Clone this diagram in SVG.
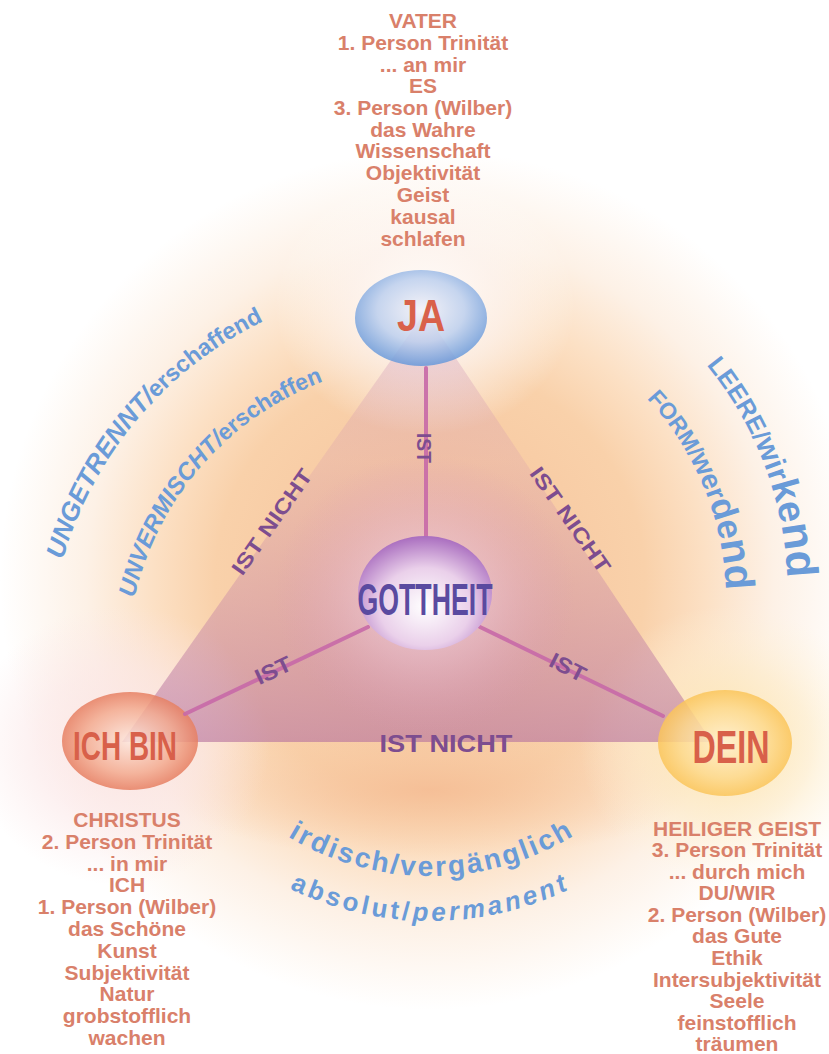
<svg xmlns="http://www.w3.org/2000/svg" width="829" height="1054" viewBox="0 0 829 1054">
<style>
.info{font-family:"Liberation Sans",Arial,sans-serif;font-weight:bold;font-size:21px;fill:#d9806a;text-anchor:middle}
.arc{font-family:"Liberation Sans",Arial,sans-serif;font-weight:bold;fill:#6a9bd8}
.lbl{font-family:"Liberation Sans",Arial,sans-serif;font-weight:bold;fill:#7d4d8f;text-anchor:middle}
.node{font-family:"Liberation Sans",Arial,sans-serif;font-weight:bold;text-anchor:middle}
.conn{stroke:#c86aa8;stroke-width:4;stroke-linecap:round;opacity:0.9}
</style>
<defs>
<radialGradient id="bg" gradientUnits="userSpaceOnUse" cx="430" cy="580" r="430">
<stop offset="0" stop-color="#f5c19a"/>
<stop offset="0.5" stop-color="#f9d1aa"/>
<stop offset="0.64" stop-color="#fce0c4"/>
<stop offset="0.8" stop-color="#fdf1e6"/>
<stop offset="1" stop-color="#ffffff"/>
</radialGradient>
<radialGradient id="glowW"><stop offset="0" stop-color="#ffffff" stop-opacity="0.95"/><stop offset="0.5" stop-color="#fdf6f4" stop-opacity="0.7"/><stop offset="1" stop-color="#ffffff" stop-opacity="0"/></radialGradient>
<radialGradient id="glowP"><stop offset="0" stop-color="#fbe4e2" stop-opacity="0.95"/><stop offset="0.55" stop-color="#fbe6e6" stop-opacity="0.6"/><stop offset="1" stop-color="#fbe6e6" stop-opacity="0"/></radialGradient>
<radialGradient id="glowY"><stop offset="0" stop-color="#fde3a6" stop-opacity="0.95"/><stop offset="0.55" stop-color="#fdeac4" stop-opacity="0.6"/><stop offset="1" stop-color="#fff3dc" stop-opacity="0"/></radialGradient>
<radialGradient id="glowO"><stop offset="0" stop-color="#f5bd95" stop-opacity="0.9"/><stop offset="1" stop-color="#f7c8a0" stop-opacity="0"/></radialGradient>
<radialGradient id="glowG"><stop offset="0" stop-color="#f6e4ee" stop-opacity="0.8"/><stop offset="0.5" stop-color="#e9bfd3" stop-opacity="0.45"/><stop offset="1" stop-color="#d99ab8" stop-opacity="0"/></radialGradient>
<linearGradient id="tri" gradientUnits="userSpaceOnUse" x1="0" y1="312" x2="0" y2="742">
<stop offset="0" stop-color="#c890b8" stop-opacity="0.35"/>
<stop offset="0.35" stop-color="#d69aae" stop-opacity="0.25"/>
<stop offset="1" stop-color="#b8759f" stop-opacity="0.64"/>
</linearGradient>
<radialGradient id="gJA" cx="0.5" cy="0.42" r="0.6"><stop offset="0" stop-color="#f3f1f7"/><stop offset="0.55" stop-color="#bccfee"/><stop offset="1" stop-color="#5f93d8"/></radialGradient>
<radialGradient id="gICH" cx="0.5" cy="0.5" r="0.6"><stop offset="0" stop-color="#fde8de"/><stop offset="0.55" stop-color="#f3ab90"/><stop offset="1" stop-color="#df6546"/></radialGradient>
<radialGradient id="gDEIN" cx="0.5" cy="0.5" r="0.6"><stop offset="0" stop-color="#fff2d6"/><stop offset="0.55" stop-color="#fdd98c"/><stop offset="1" stop-color="#f9b93c"/></radialGradient>
<radialGradient id="gGOTT" cx="0.5" cy="0.62" r="0.62"><stop offset="0" stop-color="#ffffff"/><stop offset="0.55" stop-color="#ead0ea"/><stop offset="1" stop-color="#a96dbf"/></radialGradient>
<path id="pUng" d="M 62.8,559.7 A 382 382 0 0 1 262.5,321.7"/>
<path id="pUnv" d="M 134.5,597.9 A 303 303 0 0 1 323.9,381.2"/>
<path id="pLee" d="M 706.5,365 A 358 358 0 0 1 787.1,575"/>
<path id="pFor" d="M 646.8,398.5 A 296 296 0 0 1 725.8,589.7"/>
<path id="pIrd" d="M 287.9,836.6 A 276 276 0 0 0 576.3,834.0"/>
<path id="pAbs" d="M 289.7,888.6 A 321 321 0 0 0 575.7,886.0"/>
</defs>

<g id="background">
<rect width="829" height="1054" fill="#ffffff"/>
<ellipse cx="430" cy="580" rx="430" ry="430" fill="url(#bg)"/>
<ellipse cx="430" cy="790" rx="260" ry="70" fill="url(#glowO)"/>
<ellipse cx="425" cy="305" rx="150" ry="130" fill="url(#glowW)"/>
<ellipse cx="120" cy="745" rx="150" ry="140" fill="url(#glowP)"/>
<ellipse cx="730" cy="745" rx="150" ry="140" fill="url(#glowY)"/>
</g>

<g id="triangle">
<polygon points="425,312 122,742 712,742" fill="url(#tri)"/>
<ellipse cx="425" cy="595" rx="150" ry="140" fill="url(#glowG)"/>
</g>

<g id="node-ja">
<ellipse cx="421" cy="318" rx="66" ry="48" fill="url(#gJA)" fill-opacity="0.85"/>
<text class="node" x="421" y="331" font-size="44" fill="#d9614a" textLength="48" lengthAdjust="spacingAndGlyphs">JA</text>
</g>
<g id="node-ichbin">
<ellipse cx="130" cy="741" rx="68" ry="49" fill="url(#gICH)" fill-opacity="0.85"/>
<text class="node" x="125" y="760" font-size="40" fill="#d8604a" textLength="104" lengthAdjust="spacingAndGlyphs">ICH BIN</text>
</g>
<g id="node-dein">
<ellipse cx="725" cy="743" rx="67" ry="53" fill="url(#gDEIN)" fill-opacity="0.85"/>
<text class="node" x="731" y="763" font-size="46" fill="#d8604a" textLength="77" lengthAdjust="spacingAndGlyphs">DEIN</text>
</g>

<g id="connectors">
<line class="conn" x1="426" y1="368" x2="426" y2="538"/>
<line class="conn" x1="368" y1="627" x2="185" y2="714"/>
<line class="conn" x1="480" y1="627" x2="663" y2="716"/>
<text class="lbl" transform="translate(424,448) rotate(90)" y="7" font-size="20" textLength="30" lengthAdjust="spacingAndGlyphs">IST</text>
<text class="lbl" transform="translate(273,670) rotate(-25)" y="8" font-size="22" textLength="38" lengthAdjust="spacingAndGlyphs">IST</text>
<text class="lbl" transform="translate(568,667) rotate(27)" y="8" font-size="22" textLength="38" lengthAdjust="spacingAndGlyphs">IST</text>
<text class="lbl" transform="translate(272,522) rotate(-55)" y="7" font-size="21" textLength="124" lengthAdjust="spacingAndGlyphs">IST NICHT</text>
<text class="lbl" transform="translate(570,520) rotate(55)" y="7" font-size="21" textLength="124" lengthAdjust="spacingAndGlyphs">IST NICHT</text>
<text class="lbl" x="446" y="752" font-size="23" textLength="133" lengthAdjust="spacingAndGlyphs">IST NICHT</text>
</g>

<g id="node-gottheit">
<ellipse cx="425" cy="593" rx="67" ry="57" fill="url(#gGOTT)"/>
<text class="node" x="425" y="615" font-size="44" fill="#5a4aa0" textLength="135" lengthAdjust="spacingAndGlyphs">GOTTHEIT</text>
</g>

<g id="arc-labels">
<text class="arc"><textPath href="#pUng"><tspan font-size="26" font-style="italic">UNGETRENNT/</tspan><tspan font-size="23.5">erschaffend</tspan></textPath></text>
<text class="arc"><textPath href="#pUnv"><tspan font-size="24" font-style="italic">UNVERMISCHT/</tspan><tspan font-size="23">erschaffen</tspan></textPath></text>
<text class="arc"><textPath href="#pLee" textLength="232" lengthAdjust="spacing"><tspan font-size="25">LEERE/</tspan><tspan font-size="30">wir</tspan><tspan font-size="38">ke</tspan><tspan font-size="44">nd</tspan></textPath></text>
<text class="arc"><textPath href="#pFor" textLength="212" lengthAdjust="spacing"><tspan font-size="23">FORM/</tspan><tspan font-size="28">wer</tspan><tspan font-size="35">de</tspan><tspan font-size="41">nd</tspan></textPath></text>
<text class="arc" font-size="28"><textPath href="#pIrd" textLength="300" lengthAdjust="spacing">irdisch/vergänglich</textPath></text>
<text class="arc" font-size="26"><textPath href="#pAbs" textLength="288" lengthAdjust="spacing">absolut/<tspan font-style="italic">permanent</tspan></textPath></text>
</g>

<g id="text-vater" class="info">
<text x="423" y="28">VATER</text>
<text x="423" y="50">1. Person Trinität</text>
<text x="423" y="72">... an mir</text>
<text x="423" y="93">ES</text>
<text x="423" y="115">3. Person (Wilber)</text>
<text x="423" y="137">das Wahre</text>
<text x="423" y="158">Wissenschaft</text>
<text x="423" y="180">Objektivität</text>
<text x="423" y="202">Geist</text>
<text x="423" y="224">kausal</text>
<text x="423" y="246">schlafen</text>
</g>
<g id="text-christus" class="info">
<text x="127" y="827">CHRISTUS</text>
<text x="127" y="849">2. Person Trinität</text>
<text x="127" y="871">... in mir</text>
<text x="127" y="892">ICH</text>
<text x="127" y="914">1. Person (Wilber)</text>
<text x="127" y="936">das Schöne</text>
<text x="127" y="958">Kunst</text>
<text x="127" y="980">Subjektivität</text>
<text x="127" y="1001">Natur</text>
<text x="127" y="1023">grobstofflich</text>
<text x="127" y="1045">wachen</text>
</g>
<g id="text-geist" class="info">
<text x="737" y="836">HEILIGER GEIST</text>
<text x="737" y="857">3. Person Trinität</text>
<text x="737" y="879">... durch mich</text>
<text x="737" y="900">DU/WIR</text>
<text x="737" y="922">2. Person (Wilber)</text>
<text x="737" y="943">das Gute</text>
<text x="737" y="965">Ethik</text>
<text x="737" y="987">Intersubjektivität</text>
<text x="737" y="1008">Seele</text>
<text x="737" y="1030">feinstofflich</text>
<text x="737" y="1051">träumen</text>
</g>
</svg>
